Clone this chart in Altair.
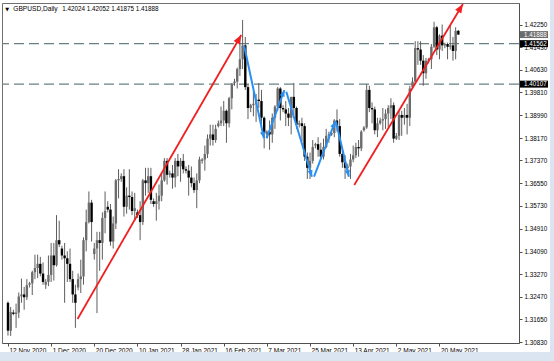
import math
import altair as alt
import pandas as pd

# ---------------- data (GBPUSD daily, MT4 style) ----------------
opens = [1.3225, 1.3125, 1.3190, 1.3185, 1.3190, 1.3248, 1.3255, 1.3245, 1.3290, 1.3295,
         1.3335, 1.3350, 1.3365, 1.3330, 1.3290, 1.3300, 1.3325, 1.3395, 1.3360, 1.3450,
         1.3420, 1.3395, 1.3385, 1.3365, 1.3310, 1.3255, 1.3280, 1.3310, 1.3320, 1.3450,
         1.3515, 1.3585, 1.3400, 1.3420, 1.3450, 1.3440, 1.3530, 1.3570, 1.3560, 1.3445,
         1.3510, 1.3665, 1.3670, 1.3680, 1.3570, 1.3610, 1.3605, 1.3555, 1.3550, 1.3540,
         1.3515, 1.3665, 1.3655, 1.3680, 1.3590, 1.3580, 1.3590, 1.3610, 1.3665, 1.3735,
         1.3685, 1.3690, 1.3675, 1.3735, 1.3715, 1.3735, 1.3705, 1.3700, 1.3675, 1.3655,
         1.3630, 1.3665, 1.3735, 1.3740, 1.3760, 1.3815, 1.3830, 1.3810, 1.3860, 1.3870,
         1.3880, 1.3915, 1.3870, 1.3960, 1.4015, 1.4020, 1.4065, 1.4100, 1.4150, 1.4000,
         1.3925, 1.3935, 1.3940, 1.3955, 1.3950, 1.3890, 1.3830, 1.3840, 1.3830, 1.3890,
         1.3930, 1.3995, 1.3925, 1.3920, 1.3905, 1.3890, 1.3965, 1.3925, 1.3865, 1.3870,
         1.3860, 1.3750, 1.3710, 1.3735, 1.3790, 1.3795, 1.3775, 1.3750, 1.3785, 1.3825,
         1.3830, 1.3835, 1.3880, 1.3860, 1.3760, 1.3730, 1.3710, 1.3715, 1.3740, 1.3755,
         1.3785, 1.3780, 1.3845, 1.3855, 1.3990, 1.3925, 1.3920, 1.3845, 1.3870, 1.3880,
         1.3885, 1.3905, 1.3925, 1.3935, 1.3815, 1.3825, 1.3900, 1.3890, 1.3900, 1.3890,
         1.4000, 1.4020, 1.4140, 1.4135, 1.4095, 1.4050, 1.4095, 1.4100, 1.4145, 1.4215,
         1.4135, 1.4185, 1.4150, 1.4155, 1.4145, 1.4150, 1.4130, 1.42024]
highs = [1.3230, 1.3210, 1.3200, 1.3222, 1.3262, 1.3312, 1.3282, 1.3310, 1.3300, 1.3340,
         1.3398, 1.3398, 1.3390, 1.3370, 1.3310, 1.3395, 1.3440, 1.3440, 1.3540, 1.3520,
         1.3430, 1.3440, 1.3410, 1.3420, 1.3340, 1.3290, 1.3330, 1.3380, 1.3460, 1.3560,
         1.3625, 1.3595, 1.3440, 1.3480, 1.3480, 1.3550, 1.3625, 1.3590, 1.3580, 1.3535,
         1.3670, 1.3705, 1.3690, 1.3705, 1.3640, 1.3705, 1.3625, 1.3620, 1.3560, 1.3590,
         1.3670, 1.3710, 1.3710, 1.3710, 1.3600, 1.3620, 1.3650, 1.3690, 1.3745, 1.3745,
         1.3700, 1.3720, 1.3745, 1.3760, 1.3745, 1.3760, 1.3715, 1.3720, 1.3715, 1.3675,
         1.3690, 1.3750, 1.3745, 1.3790, 1.3830, 1.3865, 1.3865, 1.3865, 1.3880, 1.3930,
         1.3950, 1.3920, 1.3965, 1.4015, 1.4030, 1.4070, 1.4180, 1.4241, 1.4180, 1.4010,
         1.3940, 1.3985, 1.3975, 1.4015, 1.3990, 1.3895, 1.3845, 1.3880, 1.3905, 1.3935,
         1.4000, 1.4000, 1.3935, 1.3950, 1.3925, 1.3965, 1.4015, 1.3930, 1.3880, 1.3890,
         1.3870, 1.3765, 1.3765, 1.3810, 1.3800, 1.3820, 1.3800, 1.3815, 1.3850, 1.3840,
         1.3840, 1.3885, 1.3920, 1.3885, 1.3775, 1.3755, 1.3725, 1.3760, 1.3790, 1.3800,
         1.3810, 1.3845, 1.3860, 1.4010, 1.4005, 1.3945, 1.3930, 1.3890, 1.3890, 1.3925,
         1.3920, 1.3935, 1.3960, 1.3945, 1.3835, 1.3915, 1.3915, 1.3925, 1.3940, 1.4005,
         1.4035, 1.4165, 1.4165, 1.4165, 1.4115, 1.4105, 1.4105, 1.4155, 1.4235, 1.4220,
         1.4190, 1.4225, 1.4160, 1.4160, 1.4220, 1.4180, 1.4215, 1.42052]
lows = [1.3107, 1.3106, 1.3180, 1.3135, 1.3170, 1.3225, 1.3200, 1.3235, 1.3280, 1.3253,
        1.3310, 1.3314, 1.3320, 1.3290, 1.3275, 1.3285, 1.3300, 1.3305, 1.3355, 1.3425,
        1.3380, 1.3225, 1.3300, 1.3300, 1.3225, 1.3135, 1.3270, 1.3260, 1.3290, 1.3410,
        1.3510, 1.3445, 1.3380, 1.3188, 1.3340, 1.3380, 1.3475, 1.3550, 1.3430, 1.3420,
        1.3490, 1.3600, 1.3660, 1.3535, 1.3545, 1.3560, 1.3540, 1.3520, 1.3530, 1.3450,
        1.3505, 1.3610, 1.3620, 1.3580, 1.3570, 1.3520, 1.3560, 1.3590, 1.3660, 1.3650,
        1.3675, 1.3635, 1.3640, 1.3680, 1.3660, 1.3690, 1.3690, 1.3610, 1.3640, 1.3620,
        1.3565, 1.3655, 1.3725, 1.3700, 1.3745, 1.3790, 1.3790, 1.3800, 1.3855, 1.3860,
        1.3860, 1.3800, 1.3855, 1.3920, 1.4005, 1.3995, 1.4040, 1.4065, 1.3990, 1.3885,
        1.3910, 1.3895, 1.3875, 1.3925, 1.3855, 1.3780, 1.3820, 1.3775, 1.3800, 1.3850,
        1.3915, 1.3880, 1.3910, 1.3860, 1.3860, 1.3830, 1.3900, 1.3850, 1.3855, 1.3805,
        1.3735, 1.3670, 1.3670, 1.3725, 1.3780, 1.3750, 1.3740, 1.3740, 1.3780, 1.3800,
        1.3825, 1.3820, 1.3840, 1.3750, 1.3710, 1.3670, 1.3700, 1.3670, 1.3730, 1.3745,
        1.3750, 1.3770, 1.3840, 1.3850, 1.3910, 1.3870, 1.3830, 1.3820, 1.3865, 1.3845,
        1.3850, 1.3855, 1.3885, 1.3800, 1.3810, 1.3810, 1.3825, 1.3865, 1.3830, 1.3860,
        1.3995, 1.4010, 1.4080, 1.4080, 1.4005, 1.4030, 1.4085, 1.4065, 1.4140, 1.4115,
        1.4100, 1.4130, 1.4140, 1.4100, 1.4135, 1.4095, 1.4100, 1.41875]
closes = [1.3125, 1.3192, 1.3185, 1.3190, 1.3248, 1.3255, 1.3245, 1.3288, 1.3295, 1.3335,
          1.3350, 1.3365, 1.3330, 1.3300, 1.3300, 1.3325, 1.3395, 1.3360, 1.3450, 1.3435,
          1.3395, 1.3385, 1.3365, 1.3310, 1.3255, 1.3225, 1.3310, 1.3320, 1.3450, 1.3515,
          1.3585, 1.3515, 1.3420, 1.3450, 1.3440, 1.3530, 1.3555, 1.3560, 1.3445, 1.3510,
          1.3665, 1.3670, 1.3680, 1.3570, 1.3610, 1.3605, 1.3555, 1.3565, 1.3540, 1.3515,
          1.3665, 1.3655, 1.3680, 1.3595, 1.3580, 1.3590, 1.3610, 1.3665, 1.3735, 1.3685,
          1.3690, 1.3675, 1.3735, 1.3715, 1.3735, 1.3705, 1.3700, 1.3675, 1.3655, 1.3630,
          1.3665, 1.3740, 1.3740, 1.3760, 1.3815, 1.3830, 1.3810, 1.3850, 1.3870, 1.3880,
          1.3915, 1.3870, 1.3960, 1.4010, 1.4020, 1.4065, 1.4100, 1.4150, 1.4000, 1.3925,
          1.3935, 1.3940, 1.3955, 1.3950, 1.3890, 1.3835, 1.3840, 1.3830, 1.3890, 1.3930,
          1.3995, 1.3925, 1.3920, 1.3905, 1.3890, 1.3965, 1.3925, 1.3865, 1.3870, 1.3860,
          1.3750, 1.3710, 1.3735, 1.3785, 1.3795, 1.3775, 1.3750, 1.3785, 1.3825, 1.3830,
          1.3835, 1.3880, 1.3860, 1.3760, 1.3730, 1.3710, 1.3715, 1.3740, 1.3755, 1.3785,
          1.3780, 1.3840, 1.3855, 1.3990, 1.3925, 1.3920, 1.3845, 1.3870, 1.3880, 1.3885,
          1.3905, 1.3925, 1.3935, 1.3815, 1.3825, 1.3900, 1.3890, 1.3900, 1.3890, 1.3995,
          1.4020, 1.4140, 1.4135, 1.4095, 1.4050, 1.4095, 1.4100, 1.4145, 1.4215, 1.4135,
          1.4185, 1.4150, 1.4155, 1.4145, 1.4150, 1.4130, 1.4202, 1.41888]

tick_index = [0, 16, 32, 48, 64, 80, 96, 112, 128, 144, 160]
tick_labels = ["12 Nov 2020", "1 Dec 2020", "20 Dec 2020", "10 Jan 2021", "28 Jan 2021",
               "16 Feb 2021", "7 Mar 2021", "25 Mar 2021", "13 Apr 2021", "2 May 2021",
               "20 May 2021"]
price_ticks = [1.42250, 1.41430, 1.40630, 1.39810, 1.38990, 1.38170, 1.37370, 1.36550,
               1.35730, 1.34910, 1.34090, 1.33270, 1.32470, 1.31650, 1.30830]
level_prices = [1.41562, 1.40107]
current_price = 1.41888

# arrows: (bar1, price1, bar2, price2)
red_arrows = [(25.8, 1.31668, 86.5, 1.41873),
              (128.4, 1.36483, 168.7, 1.42987)]
blue_arrows = [(87.6, 1.41477, 94.9, 1.38161),
               (95.9, 1.38161, 102.5, 1.39896),
               (103.2, 1.39835, 112.7, 1.36781),
               (113.5, 1.36781, 121.3, 1.38765),
               (121.6, 1.38765, 126.4, 1.36781)]

title_symbol = "\u25BC"
title_name = "GBPUSD,Daily"
title_values = "1.42024 1.42052 1.41875 1.41888"

# ---------------- layout ----------------
PLOT_W, PLOT_H = 517, 340
X_DOM = [-0.3636, 187.636]
Y_DOM = [1.308054, 1.430226]
PX_BAR = PLOT_W / (X_DOM[1] - X_DOM[0])
PX_PRICE = PLOT_H / (Y_DOM[1] - Y_DOM[0])
FONT = "Liberation Sans"

candles = pd.DataFrame({"i": list(range(len(opens))), "o": opens, "h": highs,
                        "l": lows, "c": closes})
candles["dir"] = ["bull" if c >= o else "bear" for o, c in zip(opens, closes)]

label_expr = "[" + ",".join("'%s'" % t for t in tick_labels) + "][round(datum.value/16)]"

xscale = alt.Scale(domain=X_DOM, nice=False, zero=False)
yscale = alt.Scale(domain=Y_DOM, nice=False, zero=False)
xaxis = alt.Axis(values=tick_index, labelExpr=label_expr, orient="bottom", tickSize=3,
                 labelAlign="left", labelFontSize=6.5, labelFont=FONT, labelColor="#000000",
                 domainColor="#505050", tickColor="#505050", labelPadding=1, grid=False,
                 title=None, labelFlush=False, labelOverlap=False, labelOffset=1)
yaxis = alt.Axis(values=price_ticks, format=".5f", orient="right", tickSize=3,
                 labelFontSize=6.3, labelFont=FONT, labelColor="#000000",
                 domainColor="#505050", tickColor="#505050", labelPadding=2, grid=False,
                 title=None, labelFlush=False, labelOverlap=False)


def X(f):
    return alt.X(f, type="quantitative", scale=xscale, axis=xaxis)


def Y(f):
    return alt.Y(f, type="quantitative", scale=yscale, axis=yaxis)


def seg_frame(arrows):
    rows = []
    for a, b, c, d in arrows:
        ang = math.degrees(math.atan2((c - a) * PX_BAR, (d - b) * PX_PRICE)) % 360
        rows.append({"x1": a, "y1": b, "x2": c, "y2": d, "ang": ang})
    return pd.DataFrame(rows)


red_df = seg_frame(red_arrows)
blue_df = seg_frame(blue_arrows)
HEAD = "M0,0L-0.8,2L0.8,2Z"

one = alt.Data(values=[{"k": 1}])

# outer light-blue window frame strips
strip_r = alt.Chart(one).mark_rect(color="#dbe5f1").encode(
    x=alt.value(548), x2=alt.value(552), y=alt.value(-3), y2=alt.value(358))
strip_b = alt.Chart(one).mark_rect(color="#dbe5f1").encode(
    x=alt.value(-2), x2=alt.value(552), y=alt.value(349), y2=alt.value(358))

levels = alt.Chart(pd.DataFrame({"p": level_prices})).mark_rule(
    color="#6a8080", strokeWidth=1.3, strokeDash=[10, 5]).encode(y=Y("p"))

wicks = alt.Chart(candles).mark_rule(color="#5e5e5e", strokeWidth=1).encode(
    x=X("i"), y=Y("l"), y2="h")
bodies = alt.Chart(candles).mark_bar(width=2.4).encode(
    x=X("i"), y=Y("o"), y2="c",
    color=alt.Color("dir:N", scale=alt.Scale(domain=["bull", "bear"],
                                             range=["#6c6c6c", "#000000"]), legend=None))

red_lines = alt.Chart(red_df).mark_rule(color="#f02020", strokeWidth=1.8).encode(
    x=X("x1"), y=Y("y1"), x2="x2", y2="y2")
red_heads = alt.Chart(red_df).mark_point(shape=HEAD, filled=True, size=81, color="#f02020",
                                         opacity=1, strokeWidth=0).encode(
    x=X("x2"), y=Y("y2"), angle=alt.Angle("ang:Q", scale=None))
blue_lines = alt.Chart(blue_df).mark_rule(color="#2a8ff0", strokeWidth=2).encode(
    x=X("x1"), y=Y("y1"), x2="x2", y2="y2")
blue_heads = alt.Chart(blue_df).mark_point(shape=HEAD, filled=True, size=42, color="#2a8ff0",
                                           opacity=1, strokeWidth=0).encode(
    x=X("x2"), y=Y("y2"), angle=alt.Angle("ang:Q", scale=None))

box_df = pd.DataFrame({"p": [current_price] + level_prices,
                       "kind": ["cur", "lvl", "lvl"]})
box_df["txt"] = ["%.5f" % v for v in box_df["p"]]
boxes = alt.Chart(box_df).transform_calculate(
    lo="datum.p - 0.00125", hi="datum.p + 0.00125").mark_rect().encode(
    x=alt.value(518), x2=alt.value(546), y=Y("lo:Q"), y2="hi:Q",
    color=alt.Color("kind:N", scale=alt.Scale(domain=["cur", "lvl"],
                                              range=["#000000", "#2f4f4f"]), legend=None))
box_text = alt.Chart(box_df).mark_text(align="left", baseline="middle", font=FONT,
                                       fontSize=6.3, color="#ffffff").encode(
    x=alt.value(522), y=Y("p"), text="txt:N")

t1 = alt.Chart(one).mark_text(align="left", baseline="middle", font="DejaVu Sans",
                              fontSize=5, color="#000000").encode(
    x=alt.value(3.2), y=alt.value(5.8), text=alt.value(title_symbol))
t2 = alt.Chart(one).mark_text(align="left", baseline="middle", font=FONT,
                              fontSize=6.6, color="#000000").encode(
    x=alt.value(11.3), y=alt.value(5.5), text=alt.value(title_name))
t3 = alt.Chart(one).mark_text(align="left", baseline="middle", font=FONT,
                              fontSize=6.3, color="#000000").encode(
    x=alt.value(60.3), y=alt.value(5.5), text=alt.value(title_values))

chart = alt.layer(strip_r, strip_b, levels, wicks, bodies, red_lines, red_heads,
                  blue_lines, blue_heads, boxes, box_text, t1, t2, t3).properties(
    width=PLOT_W, height=PLOT_H,
    padding={"left": 2, "top": 3, "right": 35, "bottom": 18},
    autosize=alt.AutoSizeParams(type="none"),
    background="#ffffff",
).configure_view(stroke="#707070", strokeWidth=1)

chart.save("out.html", embed_options={"renderer": "svg", "actions": False})
